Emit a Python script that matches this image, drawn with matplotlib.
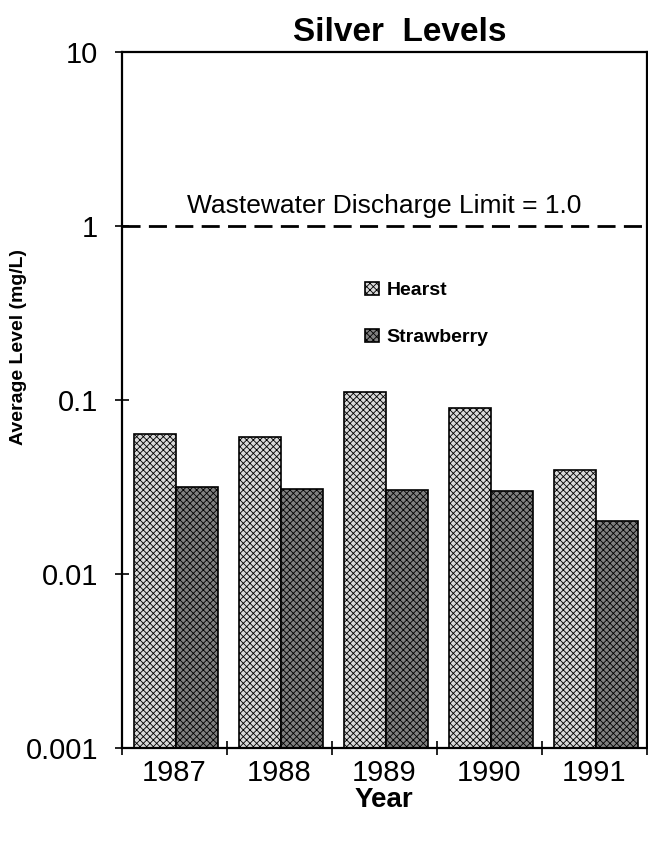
import matplotlib
matplotlib.use("Agg")
import matplotlib.pyplot as plt
import numpy as np

plt.rcParams['font.family'] = ['Liberation Sans', 'DejaVu Sans']
plt.rcParams['hatch.linewidth'] = 0.6

# data
years = ['1987', '1988', '1989', '1990', '1991']
hearst = [0.063, 0.060, 0.110, 0.089, 0.0386]
strawberry = [0.0304, 0.0296, 0.0292, 0.029, 0.0191]
limit = 1.0
yticks = [0.001, 0.01, 0.1, 1, 10]
ytick_labels = ['0.001', '0.01', '0.1', '1', '10']

fig = plt.figure(figsize=(6.48, 8.43), dpi=100)
ax = fig.add_axes([0.188, 0.113, 0.810, 0.825])

x = np.arange(len(years))
w = 0.4
ax.bar(x - w / 2 + 0.015, hearst, w, bottom=0.001, facecolor='#d8d8d8',
       edgecolor='black', hatch='xxxxx', linewidth=1.2, label='Hearst')
ax.bar(x + w / 2 + 0.015, strawberry, w, bottom=0.001, facecolor='#808080',
       edgecolor='black', hatch='xxxxx', linewidth=1.2, label='Strawberry')

# discharge limit line
ax.axhline(limit, color='black', linestyle=(0, (6.5, 3)), linewidth=2)
ax.text(2.0, 1.3, 'Wastewater Discharge Limit = 1.0', ha='center', va='center',
        fontsize=19)

ax.set_yscale('log')
ax.set_ylim(0.001, 10)
ax.set_xlim(-0.5, 4.5)
ax.set_yticks(yticks)
ax.set_yticklabels(ytick_labels, fontsize=21)
ax.yaxis.set_minor_locator(matplotlib.ticker.NullLocator())
ax.set_xticks(x)
ax.set_xticklabels(years, fontsize=21)
ax.set_xticks(np.arange(len(years) + 1) - 0.5, minor=True)
ax.tick_params(axis='x', which='major', length=0, pad=8)
ax.tick_params(axis='x', which='minor', direction='inout', length=10, width=1.2)
ax.tick_params(axis='y', direction='inout', length=10, width=1.2, pad=12)
for s in ax.spines.values():
    s.set_linewidth(1.6)

ax.set_xlabel('Year', fontsize=20, fontweight='bold', labelpad=0)
ax.set_ylabel('Average Level (mg/L)', fontsize=14, fontweight='bold')
ax.yaxis.set_label_coords(-0.18, 0.576)

fig.text(0.617, 0.962, 'Silver  Levels', ha='center', va='center',
         fontsize=24, fontweight='bold')

ax.legend(loc='upper left', bbox_to_anchor=(0.43, 0.695), frameon=False,
          handlelength=0.7, handleheight=0.7, handletextpad=0.4,
          labelspacing=1.5, prop={'size': 14, 'weight': 'bold'})

fig.savefig('out.png', dpi=100)
